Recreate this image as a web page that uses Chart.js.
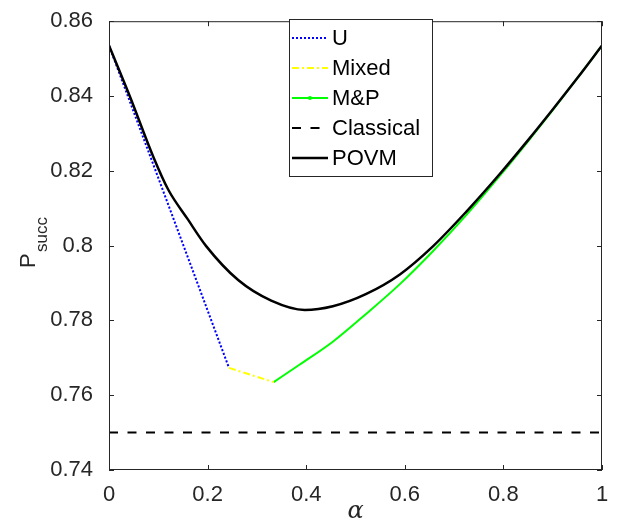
<!DOCTYPE html>
<html lang="en">
<head>
    <meta charset="UTF-8">
    <title>P_succ vs alpha</title>
    <script src="https://cdn.jsdelivr.net/npm/chart.js@4.4.0/dist/chart.umd.min.js"></script>
    <style>
        body { margin: 0; background: #fff; }
        #wrap { position: relative; width: 619px; height: 526px; }
    </style>
</head>
<body>
<div id="wrap"><canvas id="chart"></canvas></div>
<script>
// values
const alphaU = [0, 0.2434];
const succU = [0.8535, 0.7673];

const alphaMixed = [0.2434, 0.334];
const succMixed = [0.7673, 0.7635];

const alphaMP = [0.334, 0.387, 0.454, 0.522, 0.590, 0.657, 0.725, 0.793, 0.85, 0.9, 0.95, 1];
const succMP = [0.7635, 0.7682, 0.7743, 0.7818, 0.7897, 0.7985, 0.8082, 0.8187, 0.8279, 0.8362, 0.8448, 0.8535];

const alphaClassical = [0, 1];
const succClassical = [0.75, 0.75];

const alphaPOVM = [0, 0.042, 0.09, 0.12, 0.16, 0.1975, 0.262, 0.329, 0.397, 0.454, 0.522, 0.59, 0.657, 0.725, 0.793, 0.85, 0.9, 0.95, 1];
const succPOVM = [0.8535, 0.8400, 0.8237, 0.8150, 0.8070, 0.7998, 0.7908, 0.7853, 0.7828, 0.7838, 0.7871, 0.7923, 0.7998, 0.8091, 0.8192, 0.8282, 0.8364, 0.8448, 0.8535];

const xTicks = [0, 0.2, 0.4, 0.6, 0.8, 1];
const yTicks = [0.74, 0.76, 0.78, 0.8, 0.82, 0.84, 0.86];

const axisColor = '#262626';
const font = '"Liberation Sans", Arial, sans-serif';

function pts(xs, ys) {
    return xs.map((x, i) => ({ x: x, y: ys[i] }));
}

const datasets = [
    { label: 'U', data: pts(alphaU, succU), borderColor: '#0000ff', borderWidth: 2, borderDash: [2, 2], order: 3 },
    { label: 'Mixed', data: pts(alphaMixed, succMixed), borderColor: '#ffff00', borderWidth: 2, borderDash: [7, 3, 2, 3], order: 2 },
    { label: 'M&P', data: pts(alphaMP, succMP), borderColor: '#00ff00', borderWidth: 2, cubicInterpolationMode: 'monotone', order: 2, marker: true },
    { label: 'Classical', data: pts(alphaClassical, succClassical), borderColor: '#000000', borderWidth: 2, borderDash: [9, 9.5], order: 1 },
    { label: 'POVM', data: pts(alphaPOVM, succPOVM), borderColor: '#000000', borderWidth: 2.5, cubicInterpolationMode: 'monotone', order: 0 }
];
datasets.forEach(d => { d.pointRadius = 0; d.fill = false; });

// frame, inward ticks, axis titles and legend, MATLAB style
const decorations = {
    id: 'decorations',
    afterDraw(chart) {
        const ctx = chart.ctx;
        const a = chart.chartArea;
        const xs = chart.scales.x, ys = chart.scales.y;
        ctx.save();
        ctx.strokeStyle = axisColor;
        ctx.lineWidth = 1;
        ctx.strokeRect(a.left + 0.5, a.top + 0.5, a.right - a.left - 1, a.bottom - a.top - 1);
        ctx.beginPath();
        xTicks.forEach(v => {
            const px = Math.round(xs.getPixelForValue(v)) + 0.5;
            ctx.moveTo(px, a.bottom); ctx.lineTo(px, a.bottom - 5);
            ctx.moveTo(px, a.top); ctx.lineTo(px, a.top + 5);
        });
        yTicks.forEach(v => {
            const py = Math.round(ys.getPixelForValue(v)) + 0.5;
            ctx.moveTo(a.left, py); ctx.lineTo(a.left + 5, py);
            ctx.moveTo(a.right, py); ctx.lineTo(a.right - 5, py);
        });
        ctx.stroke();

        // x title
        ctx.fillStyle = axisColor;
        ctx.font = 'italic 24px "DejaVu Serif", "Liberation Serif", serif';
        ctx.textAlign = 'center';
        ctx.textBaseline = 'middle';
        ctx.fillText('\u03b1', (a.left + a.right) / 2, 512);

        // y title with subscript
        ctx.save();
        ctx.translate(0, 268);
        ctx.rotate(-Math.PI / 2);
        ctx.textAlign = 'left';
        ctx.textBaseline = 'alphabetic';
        ctx.font = '22px ' + font;
        ctx.fillText('P', 0, 35);
        ctx.font = '17px ' + font;
        ctx.fillText('succ', 16, 47);
        ctx.restore();

        // legend
        const bx = 289, by = 19, bw = 143, bh = 157;
        ctx.fillStyle = '#fff';
        ctx.fillRect(bx, by, bw, bh);
        ctx.strokeStyle = axisColor;
        ctx.strokeRect(bx + 0.5, by + 0.5, bw, bh);
        ctx.font = '22px ' + font;
        ctx.textAlign = 'left';
        ctx.textBaseline = 'middle';
        chart.data.datasets.forEach((d, i) => {
            const cy = 38 + i * 30;
            ctx.strokeStyle = d.borderColor;
            ctx.lineWidth = d.borderWidth;
            ctx.setLineDash(d.borderDash || []);
            ctx.beginPath();
            ctx.moveTo(292, cy); ctx.lineTo(328, cy);
            ctx.stroke();
            ctx.setLineDash([]);
            if (d.marker) {
                ctx.fillStyle = d.borderColor;
                ctx.beginPath();
                ctx.arc(310, cy, 2, 0, Math.PI * 2);
                ctx.fill();
            }
            ctx.fillStyle = '#000';
            ctx.fillText(d.label, 332, cy + 1);
        });
        ctx.restore();
    }
};

new Chart(document.getElementById('chart'), {
    type: 'line',
    data: { datasets: datasets },
    options: {
        responsive: true,
        maintainAspectRatio: false,
        animation: false,
        layout: { padding: { top: 15, right: 17, left: 0, bottom: 0 } },
        plugins: { legend: { display: false }, tooltip: { enabled: false } },
        scales: {
            x: {
                type: 'linear', min: 0, max: 1,
                afterFit: s => { s.height = 56; },
                afterBuildTicks: s => { s.ticks = xTicks.map(v => ({ value: v })); },
                grid: { display: false }, border: { display: false },
                ticks: { color: axisColor, padding: 4, maxRotation: 0, font: { family: font, size: 22 }, callback: v => String(+v.toFixed(1)) }
            },
            y: {
                type: 'linear', min: 0.74, max: 0.86,
                afterFit: s => { s.width = 109; },
                afterBuildTicks: s => { s.ticks = yTicks.map(v => ({ value: v })); },
                grid: { display: false }, border: { display: false },
                ticks: { color: axisColor, padding: 8, font: { family: font, size: 22 }, callback: v => String(+v.toFixed(2)) }
            }
        }
    },
    plugins: [decorations]
});
</script>
</body>
</html>
